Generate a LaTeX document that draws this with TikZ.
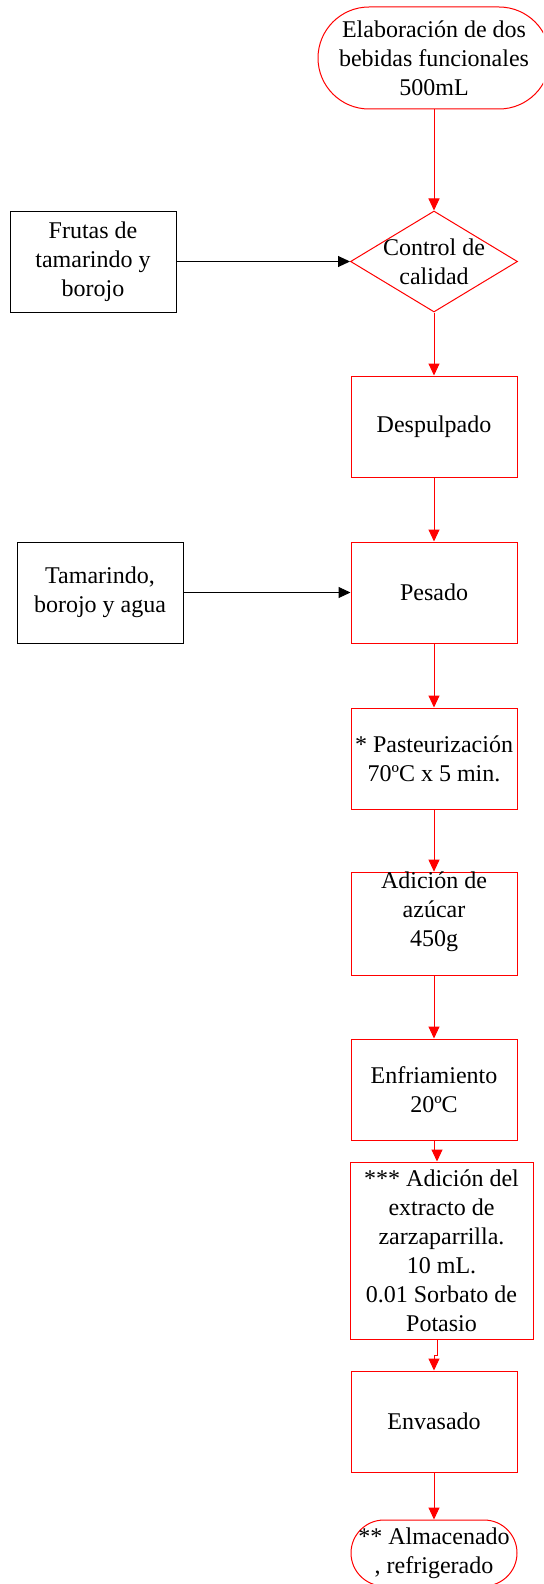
\documentclass[tikz,border=0pt]{standalone}
\usepackage{fontspec}
\setmainfont{Liberation Serif}
\usetikzlibrary{arrows.meta,shapes.geometric,calc}
\begin{document}
\begin{tikzpicture}[x=0.5pt,y=-0.5pt,
  txt/.style={font=\fontsize{12}{14.5}\selectfont,align=center,text=black,inner sep=0pt},
  proc/.style={txt,draw=red,line width=0.5pt,rectangle,minimum width=83pt,minimum height=50.5pt},
  inbox/.style={txt,draw=black,line width=0.5pt,rectangle,minimum width=83pt,minimum height=50.5pt},
  term/.style={txt,draw=red,line width=0.5pt,rectangle},
  decision/.style={draw=red,line width=0.5pt,diamond,inner sep=0pt,minimum width=83.5pt,minimum height=50.5pt},
  flow/.style={red,line width=0.5pt,-{Triangle[width=5.5pt,length=6pt]}},
  feed/.style={black,line width=0.5pt,-{Triangle[width=5.5pt,length=6pt]}}]
\useasboundingbox (0,0) rectangle (543,1584);
\clip (0,0) rectangle (543,1584);

% main column
\node[term,minimum width=116pt,minimum height=51pt,rounded corners=25.5pt] (start) at (434,58)
  {Elaboración de dos\\bebidas funcionales\\500mL};
\node[decision] (qc) at (434,261.5) {};
\node[txt] (qct) at (qc) {Control de\\calidad};
\node[proc] (desp) at (434,426.5) {Despulpado};
\node[proc] (pes) at (434,592.5) {Pesado};
\node[proc] (past) at (434,758.5) {* Pasteurización\\70ºC x 5 min.};
\node[proc] (azu) at (434,924) {Adición de\\azúcar\\450g\\\mbox{}};
\node[proc] (enf) at (434,1089.5) {Enfriamiento\\20ºC};
\node[proc,minimum width=91.5pt,minimum height=88.5pt] (ext) at (441.5,1250.5)
  {*** Adición del\\extracto de\\zarzaparrilla.\\10 mL.\\0.01 Sorbato de\\Potasio};
\node[proc] (env) at (434,1421.5) {Envasado};
\node[term,minimum width=83pt,minimum height=33pt,rounded corners=16.5pt] (alm) at (434,1553)
  {** Almacenado\\, refrigerado};

% inputs
\node[inbox] (fr) at (93,261.5) {Frutas de\\tamarindo y\\borojo};
\node[inbox] (tam) at (100,592.5) {Tamarindo,\\borojo y agua};

% connectors
\draw[flow] (start) -- (qc);
\draw[feed] (fr) -- (qc);
\draw[flow] (qc) -- (desp);
\draw[flow] (desp) -- (pes);
\draw[feed] (tam) -- (pes);
\draw[flow] (pes) -- (past);
\draw[flow] (past) -- (azu);
\draw[flow] (azu) -- (enf);
\draw[flow] (enf.south) -- ++(0,10) -| ($(ext.north)+(-4.5,0)$);
\draw[flow] ($(ext.south)+(-4.5,0)$) -- ++(0,16) -| (env.north);
\draw[flow] (env) -- (alm);
\end{tikzpicture}
\end{document}
